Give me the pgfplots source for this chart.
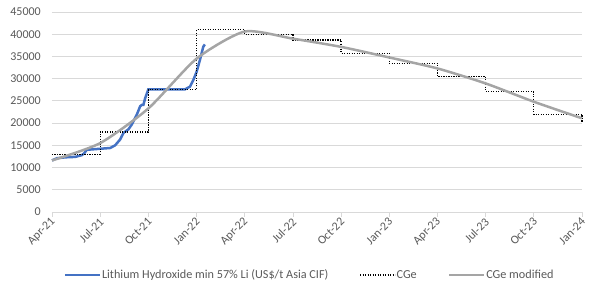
\documentclass[border=0pt]{standalone}
\usepackage{fontspec}
\setmainfont{Carlito}
\usepackage{pgfplots}
\pgfplotsset{compat=1.18}
\definecolor{tickgray}{HTML}{595959}
\definecolor{gridgray}{HTML}{D9D9D9}
\definecolor{lhblue}{HTML}{4472C4}
\definecolor{cgegray}{HTML}{A5A5A5}
\begin{document}
\begin{tikzpicture}
\fontsize{12}{14}\selectfont
\begin{axis}[
  at={(0,0)}, anchor=south west,
  scale only axis, width=530pt, height=200pt,
  xmin=0, xmax=33, ymin=0, ymax=45000,
  xtick={0,3,...,33},
  xticklabels={Apr-21,Jul-21,Oct-21,Jan-22,Apr-22,Jul-22,Oct-22,Jan-23,Apr-23,Jul-23,Oct-23,Jan-24},
  ytick={0,5000,...,45000},
  /pgf/number format/assume math mode=true,
  scaled y ticks=false,
  yticklabel={\pgfmathprintnumber[fixed,1000 sep={}]{\tick}},
  tick label style={font=\fontsize{12}{14}\selectfont, text=tickgray},
  x tick label style={rotate=45, anchor=east, inner sep=1pt, yshift=-3pt},
  y tick label style={inner sep=2pt, xshift=-4pt},
  axis lines*=left,
  y axis line style={draw=none},
  x axis line style={draw=gridgray, line width=0.8pt},
  ytick style={draw=none},
  xtick style={draw=gridgray, line width=0.8pt},
  tick align=outside,
  major tick length=5pt,
  ymajorgrids,
  grid style={gridgray, line width=0.8pt},
  legend columns=3,
  legend style={draw=none, fill=none, at={(0.485,-0.315)}, anchor=center,
    font=\fontsize{12.2}{14}\selectfont, text=tickgray,
    nodes={inner xsep=1pt},
    /tikz/every even column/.append style={column sep=30pt}},
  legend image code/.code={\draw[#1] (0pt,0pt) -- (35pt,0pt);},
  clip=false,
]
\addplot[lhblue, line width=2.5pt] coordinates {
 (0,11600) (0.31,12100) (0.83,12300) (1.45,12400) (1.86,12800) (2.0,13200) (2.17,14000)
 (2.90,14200) (3.62,14400) (3.93,15000) (4.24,16300) (4.45,17800) (4.76,18600)
 (4.97,19700) (5.28,21900) (5.49,23800) (5.60,24100) (5.69,24100) (5.80,25600) (6.00,27600)
 (8.28,27600) (8.59,28200) (8.80,29700) (9.01,31600) (9.21,34200) (9.42,37200) (9.52,37700)
};
\addlegendentry{Lithium Hydroxide min 57\% Li (US\$/t Asia CIF)}
\addplot[black, line width=1.2pt, dash pattern=on 1.2pt off 1.3pt, const plot mark left] coordinates {
 (0,13000) (3,18000) (6,27600) (9,41000) (12,40000) (15,38700) (18,35700)
 (21,33500) (24,30500) (27,27100) (30,22000) (33,20100)
};
\addlegendentry{CGe}
\addplot[cgegray, line width=2.5pt, smooth, tension=0.4] coordinates {
 (0,11600) (3,15500) (6,23300) (9,34500) (12,40600) (15,39000) (18,37150)
 (21,34770) (24,32300) (27,28930) (30,24810) (33,21080)
};
\addlegendentry{CGe modified}
\end{axis}
\pgfresetboundingbox
\path[use as bounding box] (-52pt,-74pt) rectangle (537pt,212pt);
\end{tikzpicture}
\end{document}
